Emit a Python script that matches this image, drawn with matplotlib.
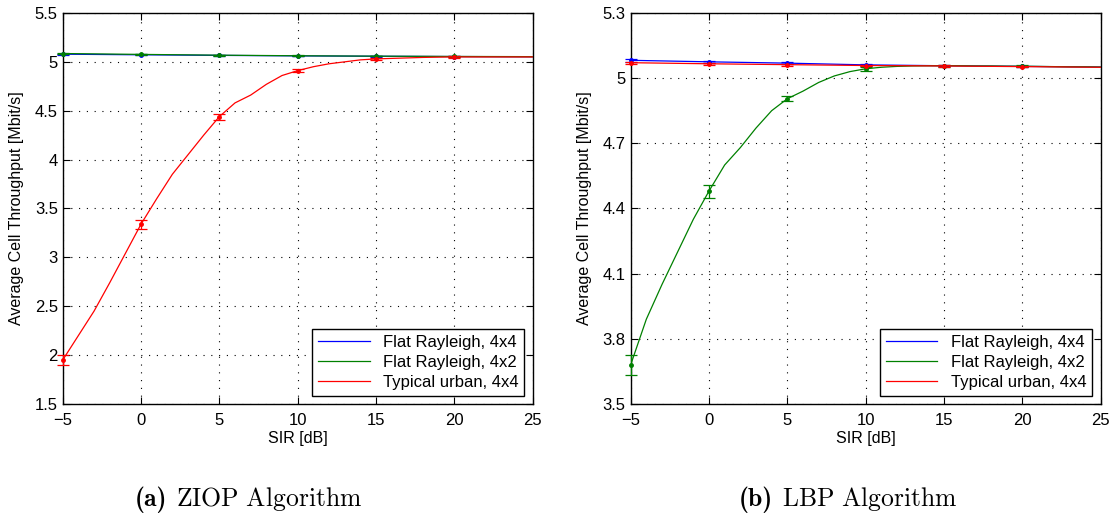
import os
import matplotlib
import matplotlib.pyplot as plt
from matplotlib.font_manager import FontProperties

plt.rcParams['font.family'] = ['Liberation Sans', 'DejaVu Sans']
plt.rcParams['mathtext.fontset'] = 'cm'

# SIR axis [dB]
sir_fine = list(range(-5, 26))
sir_coarse = [-5, 0, 5, 10, 15, 20, 25]
sir_err = [-5, 0, 5, 10, 15, 20]

labels = ['Flat Rayleigh, 4x4', 'Flat Rayleigh, 4x2', 'Typical urban, 4x4']
colors = ['#0000ff', '#008000', '#ff0000']

# (a) ZIOP algorithm
ziop_flat44 = [5.078, 5.072, 5.066, 5.061, 5.057, 5.054, 5.052]
ziop_flat42 = [5.085, 5.076, 5.068, 5.062, 5.058, 5.055, 5.053]
ziop_urban44 = [1.95, 2.20, 2.45, 2.74, 3.04, 3.34, 3.60, 3.85, 4.05, 4.25,
                4.44, 4.58, 4.66, 4.77, 4.86, 4.91, 4.95, 4.98, 5.00, 5.02,
                5.03, 5.035, 5.04, 5.045, 5.048, 5.05, 5.05, 5.05, 5.05, 5.05, 5.05]
ziop_flat44_err = [0.005, 0.004, 0.004, 0.003, 0.003, 0.003]
ziop_flat42_err = [0.006, 0.005, 0.004, 0.004, 0.003, 0.003]
ziop_urban44_err = [0.05, 0.045, 0.03, 0.012, 0.008, 0.006]

# (b) LBP algorithm
lbp_flat44 = [5.082, 5.075, 5.069, 5.061, 5.057, 5.054, 5.051]
lbp_flat42 = [3.68, 3.89, 4.05, 4.20, 4.35, 4.48, 4.60, 4.68, 4.77, 4.85,
              4.905, 4.94, 4.98, 5.01, 5.03, 5.043, 5.05, 5.054, 5.056, 5.057,
              5.057, 5.057, 5.056, 5.056, 5.055, 5.055, 5.054, 5.053, 5.052, 5.052, 5.051]
lbp_urban44 = [5.071, 5.066, 5.062, 5.058, 5.056, 5.053, 5.050]
lbp_flat44_err = [0.006, 0.005, 0.005, 0.004, 0.003, 0.003]
lbp_flat42_err = [0.045, 0.03, 0.012, 0.008, 0.005, 0.004]
lbp_urban44_err = [0.005, 0.005, 0.004, 0.004, 0.003, 0.003]


def err_points(x, y, xe):
    # pick the curve values at the error-bar positions
    return [y[x.index(v)] for v in xe]


def draw_panel(ax, series, ylim, yticks):
    for (x, y, e), lab, c in zip(series, labels, colors):
        ax.plot(x, y, color=c, lw=0.9, label=lab, zorder=3)
        ax.errorbar(sir_err, err_points(x, y, sir_err), yerr=e, fmt='.', color=c,
                    ms=5, elinewidth=0.9, capsize=4, capthick=0.9, zorder=3,
                    clip_on=False)
    ax.set_xlim(-5, 25)
    ax.set_ylim(*ylim)
    ax.set_xticks([-5, 0, 5, 10, 15, 20, 25])
    ax.set_yticks(yticks)
    ax.set_yticklabels(['%g' % t for t in yticks])
    ax.grid(True, color='black', linestyle=(0, (1, 6)), lw=0.8)
    ax.tick_params(direction='in', top=True, right=True, labelsize=12, length=5)
    ax.tick_params(axis='x', pad=6.5)
    for s in ax.spines.values():
        s.set_linewidth(1.0)
    ax.set_xlabel('SIR [dB]', fontsize=11.5, labelpad=2)
    ax.set_ylabel('Average Cell Throughput [Mbit/s]', fontsize=11.5, labelpad=8)
    leg = ax.legend(loc='lower right', fontsize=12, handlelength=3.1,
                    fancybox=False, framealpha=1, edgecolor='black',
                    borderaxespad=0.5, labelspacing=0.3, borderpad=0.35)
    leg.get_frame().set_linewidth(1.0)


fig = plt.figure(figsize=(11.16, 5.16), dpi=100)
ax1 = fig.add_axes([0.0562, 0.2171, 0.4211, 0.7578])
ax2 = fig.add_axes([0.5651, 0.2171, 0.4211, 0.7578])

draw_panel(ax1,
           [(sir_coarse, ziop_flat44, ziop_flat44_err),
            (sir_coarse, ziop_flat42, ziop_flat42_err),
            (sir_fine, ziop_urban44, ziop_urban44_err)],
           (1.5, 5.5), [1.5, 2, 2.5, 3, 3.5, 4, 4.5, 5, 5.5])
draw_panel(ax2,
           [(sir_coarse, lbp_flat44, lbp_flat44_err),
            (sir_fine, lbp_flat42, lbp_flat42_err),
            (sir_coarse, lbp_urban44, lbp_urban44_err)],
           (3.5, 5.3), [3.5, 3.8, 4.1, 4.4, 4.7, 5.0, 5.3])

# sub-figure captions: bold Computer Modern tag + roman text
ttf_dir = os.path.join(matplotlib.get_data_path(), 'fonts', 'ttf')
cmb = FontProperties(fname=os.path.join(ttf_dir, 'cmb10.ttf'), size=18.5)
cap_y = 0.019
for x_tag, x_txt, tag, txt in [(0.1496, 0.1577, '(a)', r'$\mathrm{ZIOP\ Algorithm}$'),
                               (0.6927, 0.7007, '(b)', r'$\mathrm{LBP\ Algorithm}$')]:
    fig.text(x_tag, cap_y, tag, fontproperties=cmb, ha='right', va='baseline')
    fig.text(x_txt, cap_y, txt, fontsize=18.5, ha='left', va='baseline')

fig.savefig('out.png', dpi=100)
